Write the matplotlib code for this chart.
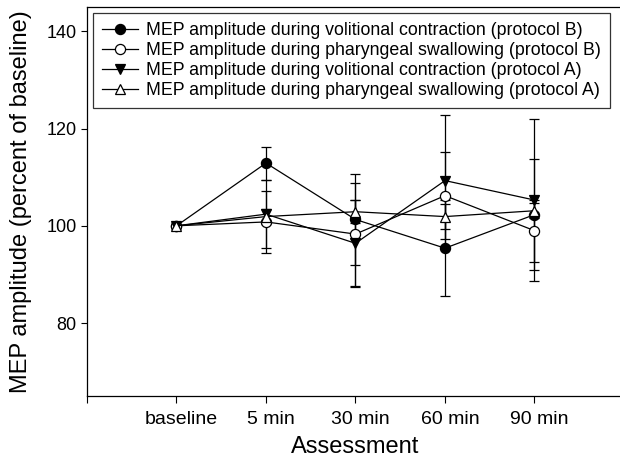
import numpy as np
import matplotlib
matplotlib.use("Agg")
import matplotlib.pyplot as plt
from matplotlib.lines import Line2D
from matplotlib.transforms import ScaledTranslation

plt.rcParams["font.family"] = ["Liberation Sans", "DejaVu Sans"]

# valeurs (percent of baseline)
x_pos = [1, 2, 3, 4, 5]
tick_labels = ["", "baseline", "5 min", "30 min", "60 min", "90 min"]

vol_b = [100, 112.9, 101.3, 95.4, 102.3]
vol_b_err = [np.nan, 3.4, 9.4, 9.9, 11.4]
swal_b = [100, 100.8, 98.3, 106.2, 99.0]
swal_b_err = [np.nan, 6.4, 10.6, 9.0, 6.4]
vol_a = [100, 102.4, 96.4, 109.3, 105.3]
vol_a_err = [np.nan, 7.0, 9.0, 13.5, 16.7]
swal_a = [100, 101.9, 102.9, 101.9, 103.1]
swal_a_err = [np.nan, 1.5, 2.4, 2.5, 1.5]

labels = [
    "MEP amplitude during volitional contraction (protocol B)",
    "MEP amplitude during pharyngeal swallowing (protocol B)",
    "MEP amplitude during volitional contraction (protocol A)",
    "MEP amplitude during pharyngeal swallowing (protocol A)",
]

fig = plt.figure(figsize=(6.2, 4.58), dpi=100)
ax = fig.add_axes([87 / 620, 1 - 396 / 458, 537 / 620, 389 / 458])

series = [
    (vol_b, vol_b_err, "o", "black", 7.3),
    (swal_b, swal_b_err, "o", "white", 7.3),
    (vol_a, vol_a_err, "v", "black", 7.8),
    (swal_a, swal_a_err, "^", "white", 7.8),
]
handles = []
for (vals, errs, mk, fc, ms), lab in zip(series, labels):
    ax.errorbar(x_pos, vals, yerr=errs, marker=mk, markersize=ms,
                markerfacecolor=fc, markeredgecolor="black", markeredgewidth=0.9,
                color="black", linewidth=0.9, elinewidth=0.9, capsize=3.6,
                capthick=0.9)
    # poignee de legende sans barre d'erreur
    handles.append(Line2D([], [], marker=mk, markersize=ms, markerfacecolor=fc,
                          markeredgecolor="black", markeredgewidth=0.9,
                          color="black", linewidth=0.9, label=lab))

ax.set_xlim(0, 6)
ax.set_ylim(65, 145)
ax.set_xticks(range(6))
ax.set_xticklabels(tick_labels, fontsize=14)
ax.set_yticks([80, 100, 120, 140])
ax.tick_params(axis="y", labelsize=13, direction="out", length=4, width=0.8)
ax.tick_params(axis="x", direction="out", length=5, width=0.8, pad=5.5)
# les etiquettes sont un peu decalees vers la droite
offset = ScaledTranslation(5 / 100, 0, fig.dpi_scale_trans)
for t in ax.get_xticklabels():
    t.set_transform(t.get_transform() + offset)

for side in ["left", "bottom", "top"]:
    ax.spines[side].set_linewidth(0.9)
ax.spines["right"].set_visible(False)

ax.set_xlabel("Assessment", fontsize=17, labelpad=6)
ax.set_ylabel("MEP amplitude (percent of baseline)", fontsize=17, labelpad=10)

leg = ax.legend(handles=handles, loc="upper left", bbox_to_anchor=(0.011, 0.985),
                fontsize=12.8, frameon=True, fancybox=False, edgecolor="black",
                handlelength=2.05, handletextpad=0.45, borderpad=0.5,
                labelspacing=0.17, borderaxespad=0)
leg.get_frame().set_linewidth(0.9)

fig.savefig("out.png", dpi=100)
